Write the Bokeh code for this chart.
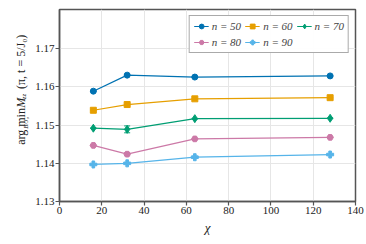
import math
from bokeh.plotting import figure
from bokeh.layouts import row
from bokeh.core.properties import value
from bokeh.models import Range1d, Legend, LegendItem, Whisker, ColumnDataSource, FixedTicker, NumeralTickFormatter
from bokeh.embed import file_html
from bokeh.resources import INLINE

chi = [16, 32, 64, 128]
n_labels = ["n = 50", "n = 60", "n = 70", "n = 80", "n = 90"]
y50 = [1.1589, 1.1631, 1.1626, 1.1629]
y60 = [1.1539, 1.1554, 1.1569, 1.1572]
y70 = [1.1492, 1.1489, 1.1517, 1.1518]
y80 = [1.1447, 1.1424, 1.1464, 1.1468]
y90 = [1.1397, 1.1400, 1.1416, 1.1423]
err50 = [0.0001, 0.0001, 0.0001, 0.0001]
err60 = [0.0001, 0.0001, 0.0001, 0.0001]
err70 = [0.0001, 0.0009, 0.0001, 0.0001]
err80 = [0.0001, 0.0004, 0.0001, 0.0001]
err90 = [0.0001, 0.0001, 0.0003, 0.0001]
x_ticks = [0, 20, 40, 60, 80, 100, 120, 140]
y_ticks = [1.13, 1.14, 1.15, 1.16, 1.17]

colors = ["#0072B2", "#E69F00", "#009E73", "#CC79A7", "#56B4E9"]
markers = ["circle", "square", "diamond", "hex", "plus"]
msizes = [6, 6, 8, 6.5, 7]
series = [y50, y60, y70, y80, y90]
errs = [err50, err60, err70, err80, err90]

FONT = "'Liberation Serif'"

p = figure(frame_width=296, frame_height=192, output_backend="svg", toolbar_location=None,
           x_range=Range1d(0, 140), y_range=Range1d(1.13, 1.1803),
           min_border_left=29, min_border_right=11, min_border_top=9, min_border_bottom=43)
p.background_fill_color = "white"
p.outline_line_color = "#555555"
p.outline_line_width = 1.5

p.xaxis.ticker = FixedTicker(ticks=x_ticks)
p.yaxis.ticker = FixedTicker(ticks=y_ticks)
p.yaxis.formatter = NumeralTickFormatter(format="0.00")
p.xaxis.axis_label = "χ"
p.xaxis.axis_label_text_font = FONT
p.xaxis.axis_label_text_font_style = "italic"
p.xaxis.axis_label_text_font_size = "13px"
p.xaxis.axis_label_standoff = 3
p.xaxis.axis_label_text_color = "#222222"

p.axis.axis_line_color = "#555555"
p.axis.axis_line_width = 1.5
p.axis.major_tick_line_color = "#555555"
p.axis.major_tick_line_width = 1.2
p.axis.major_tick_out = 4
p.axis.major_tick_in = 0
p.axis.minor_tick_line_color = None
p.axis.major_label_text_color = "#222222"
p.axis.major_label_standoff = 1
p.axis.major_label_text_font = FONT
p.axis.major_label_text_font_size = "11px"

p.xgrid.grid_line_color = "#e6e6e6"
p.ygrid.grid_line_color = "#e6e6e6"
p.xgrid.ticker = FixedTicker(ticks=x_ticks)
p.ygrid.ticker = FixedTicker(ticks=y_ticks)

items = []
for ys, er, c, m, s, lab in zip(series, errs, colors, markers, msizes, n_labels):
    lo = [a - e for a, e in zip(ys, er)]
    hi = [a + e for a, e in zip(ys, er)]
    src = ColumnDataSource(dict(x=chi, y=ys, lo=lo, hi=hi))
    r1 = p.line("x", "y", source=src, line_color=c, line_width=1.2)
    r2 = p.scatter("x", "y", source=src, marker=m, size=s, fill_color=c, line_color=c)
    w = Whisker(base="x", lower="lo", upper="hi", source=src, line_color=c, line_width=1.2)
    w.upper_head.line_color = c
    w.lower_head.line_color = c
    w.upper_head.size = 6
    w.lower_head.size = 6
    p.add_layout(w)
    items.append(LegendItem(label=lab, renderers=[r1, r2]))

leg = Legend(items=items, location="top_right", orientation="horizontal", ncols=3,
             label_text_font=FONT, label_text_font_style="italic", label_text_font_size="11px",
             border_line_color="#555555", border_line_width=1.2, glyph_width=15, glyph_height=12,
             label_standoff=3, spacing=4, padding=4, margin=6, label_height=12)
p.add_layout(leg)

q = figure(width=30, height=244, output_backend="svg", toolbar_location=None,
           x_range=Range1d(0, 30), y_range=Range1d(0, 244),
           min_border=0, min_border_left=0, min_border_right=0, min_border_top=0, min_border_bottom=0)
q.axis.visible = False
q.grid.visible = False
q.outline_line_color = None

def lab(text, x, y, size, style="normal", align="left"):
    q.text(x=[x], y=[y], text=[text], angle=math.pi / 2, text_font=value(FONT),
           text_font_size=size, text_font_style=style, text_align=align,
           text_baseline="alphabetic", text_color="#222222")

lab("arg min", 20, 72, "12px")
lab("B/J₀", 25.5, 100, "7px", "italic", "center")
lab("M", 20, 119, "12px", "italic")
lab("zz", 23, 130, "7px", "italic")
lab("(π, t = 5/J₀)", 20, 143, "12px")

layout = row(q, p)
open("out.html", "w").write(file_html(layout, INLINE))
